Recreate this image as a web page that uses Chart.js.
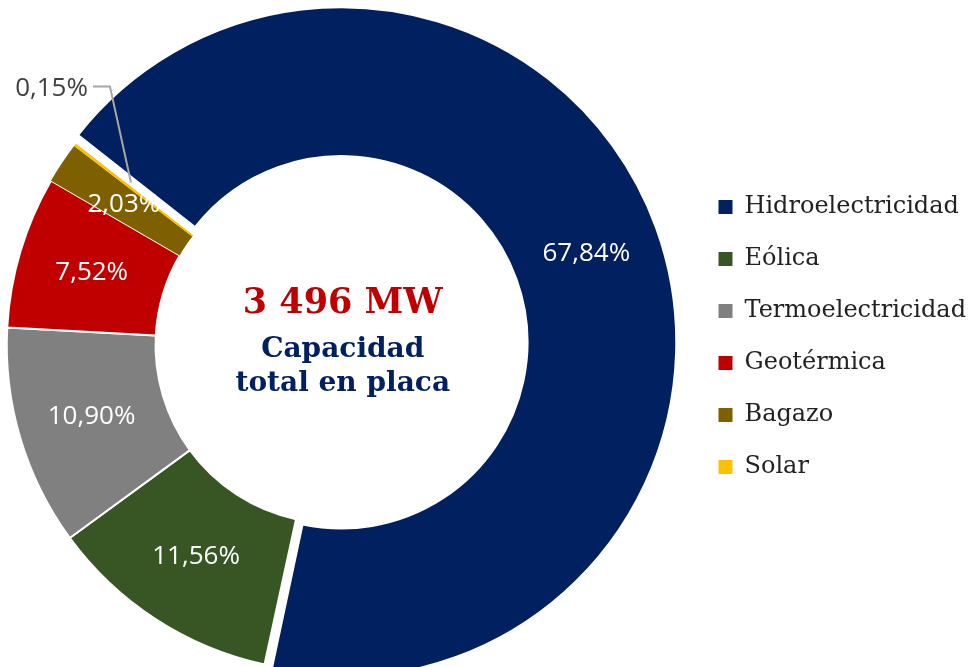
<!DOCTYPE html>
<html>
<head>
<meta charset="utf-8">
<script src="https://cdn.jsdelivr.net/npm/chart.js@4"></script>
<style>
  html, body { margin: 0; padding: 0; background: #fff; overflow: hidden; }
  #wrap { position: relative; width: 999px; height: 667px; margin-left: -23px; }
</style>
</head>
<body>
<div id="wrap"><canvas id="chartCanvas"></canvas></div>
<script>
var categories = ['Hidroelectricidad', 'Eólica', 'Termoelectricidad', 'Geotérmica', 'Bagazo', 'Solar'];
var shares = [67.84, 11.56, 10.90, 7.52, 2.03, 0.15];
var shareLabels = ['67,84%', '11,56%', '10,90%', '7,52%', '2,03%', '0,15%'];
var sliceColors = ['#002060', '#375623', '#808080', '#C00000', '#7F6000', '#FFC000'];
var totalLabel = '3 496 MW';
var centerLines = ['Capacidad', 'total en placa'];

// percentages inside the ring, small slices get a leader line outside
var sliceLabels = {
  id: 'sliceLabels',
  afterDatasetsDraw: function(chart) {
    var ctx = chart.ctx;
    var arcs = chart.getDatasetMeta(0).data;
    ctx.save();
    ctx.font = '26px "Open Sans"';
    ctx.textBaseline = 'middle';
    arcs.forEach(function(arc, i) {
      var p = arc.getCenterPoint();
      if (shares[i] < 1) {
        var ex = p.x - 24, ey = p.y - 104;
        ctx.strokeStyle = '#A6A6A6';
        ctx.lineWidth = 2;
        ctx.beginPath();
        ctx.moveTo(ex - 17, ey);
        ctx.lineTo(ex, ey);
        ctx.lineTo(p.x - 3, p.y - 8);
        ctx.stroke();
        ctx.fillStyle = '#404040';
        ctx.textAlign = 'right';
        ctx.fillText(shareLabels[i], ex - 22, ey + 2);
      } else {
        ctx.fillStyle = '#ffffff';
        ctx.textAlign = 'center';
        ctx.fillText(shareLabels[i], p.x, p.y);
      }
    });
    ctx.restore();
  }
};

var centerText = {
  id: 'centerText',
  afterDatasetsDraw: function(chart) {
    var ctx = chart.ctx;
    var arc = chart.getDatasetMeta(0).data[1];
    var cx = arc.x + 9, cy = arc.y;
    ctx.save();
    ctx.textAlign = 'center';
    ctx.textBaseline = 'alphabetic';
    ctx.fillStyle = '#C00000';
    ctx.font = 'bold 35px "DejaVu Serif"';
    ctx.fillText(totalLabel, cx, cy - 32);
    ctx.fillStyle = '#002060';
    ctx.font = 'bold 28px "DejaVu Serif"';
    ctx.fillText(centerLines[0], cx, cy + 12);
    ctx.fillText(centerLines[1], cx, cy + 46);
    ctx.restore();
  }
};

var legendNudge = {
  id: 'legendNudge',
  afterLayout: function(chart) {
    chart.legend.top -= 8;
    chart.legend.bottom -= 8;
  }
};

var ctx = document.getElementById('chartCanvas').getContext('2d');
var chart = new Chart(ctx, {
  type: 'doughnut',
  data: {
    labels: categories,
    datasets: [{
      data: shares,
      backgroundColor: sliceColors,
      borderColor: '#ffffff',
      borderWidth: [2, 2, 2, 2, 0, 0],
      offset: [32, 0, 0, 0, 0, 0]
    }]
  },
  options: {
    responsive: true,
    maintainAspectRatio: false,
    animation: false,
    rotation: 308,
    radius: 327,
    cutout: '54.5%',
    layout: { padding: { left: 0, right: 0, top: 23, bottom: 0 } },
    plugins: {
      tooltip: { enabled: false },
      legend: {
        position: 'right',
        labels: {
          boxWidth: 14,
          boxHeight: 14,
          padding: 28,
          color: '#222222',
          font: { family: '"DejaVu Serif"', size: 24 },
          generateLabels: function(c) {
            var items = Chart.overrides.doughnut.plugins.legend.labels.generateLabels(c);
            items.forEach(function(it) { it.lineWidth = 0; });
            return items;
          }
        }
      }
    }
  },
  plugins: [sliceLabels, centerText, legendNudge]
});
</script>
</body>
</html>
